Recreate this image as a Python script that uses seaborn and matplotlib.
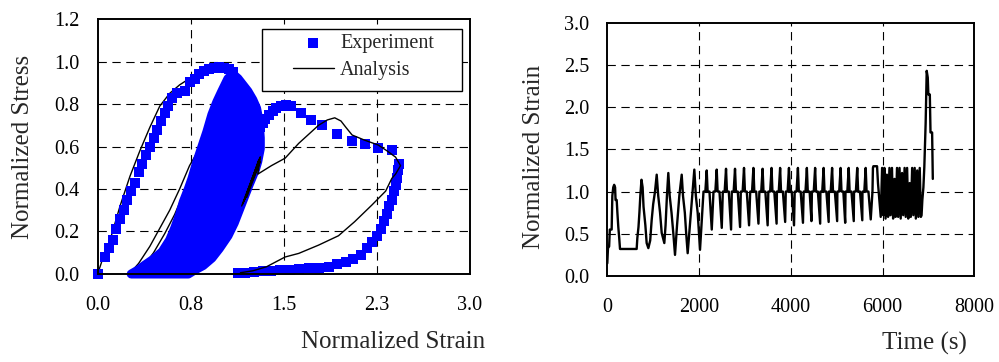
import numpy as np
import pandas as pd
import matplotlib
matplotlib.use("Agg")
import matplotlib.pyplot as plt
import seaborn as sns
from matplotlib.patches import Rectangle

# ---------------- Left panel data (stress-strain) ----------------
# Experiment: first loading envelope
exp_load_strain = [0.0, 0.06, 0.09, 0.12, 0.15, 0.18, 0.21, 0.24, 0.27, 0.30,
                   0.33, 0.36, 0.39, 0.42, 0.45, 0.48, 0.51, 0.54, 0.57, 0.60,
                   0.64, 0.70, 0.74, 0.78, 0.82, 0.86, 0.90, 0.94, 0.98, 1.02,
                   1.06, 1.09]
exp_load_stress = [0.0, 0.08, 0.12, 0.16, 0.21, 0.26, 0.30, 0.35, 0.39, 0.43,
                   0.48, 0.52, 0.56, 0.60, 0.64, 0.68, 0.72, 0.76, 0.79, 0.83,
                   0.85, 0.86, 0.905, 0.92, 0.94, 0.955, 0.965, 0.97, 0.975, 0.97,
                   0.965, 0.95]
# Experiment: post-cycling envelope and final unloading
exp_env_strain = [1.31, 1.33, 1.35, 1.38, 1.41, 1.44, 1.48, 1.52, 1.56, 1.64,
                  1.72, 1.81, 1.93, 2.05, 2.15, 2.26, 2.37, 2.43, 2.42, 2.41,
                  2.40, 2.39, 2.37, 2.35, 2.33, 2.31, 2.28, 2.25, 2.21, 2.17,
                  2.12, 2.06, 2.00, 1.93, 1.86, 1.78, 1.70, 1.62, 1.55, 1.47,
                  1.40, 1.33, 1.26, 1.19, 1.13]
exp_env_stress = [0.69, 0.71, 0.73, 0.75, 0.765, 0.78, 0.79, 0.795, 0.79, 0.76,
                  0.725, 0.70, 0.66, 0.626, 0.61, 0.595, 0.583, 0.52, 0.49, 0.45,
                  0.42, 0.39, 0.35, 0.32, 0.28, 0.25, 0.21, 0.18, 0.15, 0.12,
                  0.09, 0.07, 0.055, 0.045, 0.035, 0.03, 0.026, 0.022, 0.02, 0.018,
                  0.015, 0.012, 0.01, 0.007, 0.005]
# Experiment: outline of the densely overlapping cyclic loops
exp_cyc_strain = [0.27, 0.33, 0.38, 0.45, 0.52, 0.58, 0.62, 0.66, 0.69, 0.73,
                  0.76, 0.80, 0.84, 0.88, 0.92, 0.96, 1.00, 1.05, 1.09, 1.13,
                  1.17, 1.21, 1.25, 1.28, 1.30, 1.31, 1.31, 1.29, 1.27, 1.22,
                  1.16, 1.10, 1.05, 0.98, 0.92, 0.85, 0.78, 0.73]
exp_cyc_stress = [0.0, 0.02, 0.042, 0.07, 0.105, 0.16, 0.215, 0.28, 0.34, 0.40,
                  0.45, 0.53, 0.60, 0.67, 0.75, 0.81, 0.86, 0.92, 0.94, 0.92,
                  0.89, 0.86, 0.82, 0.78, 0.72, 0.64, 0.59, 0.53, 0.49, 0.42,
                  0.33, 0.24, 0.18, 0.12, 0.075, 0.04, 0.018, 0.0]

# Analysis: first loading and reloading branches (left side)
ana_a_strain = [0.0, 0.05, 0.10, 0.18, 0.26, 0.34, 0.42, 0.50, 0.58, 0.66,
                0.74, 0.82, 0.90, 0.98, 1.05, 1.08, 1.14, 1.19, 1.22,
                1.10, 0.95, 0.75, 0.50, 0.27,
                0.33, 0.42, 0.50, 0.58, 0.66, 0.74, 0.81, 0.88, 0.96, 1.04, 1.09,
                0.95, 0.70, 0.45, 0.31,
                0.36, 0.45, 0.54, 0.62, 0.70, 0.77, 0.84, 0.92, 1.00, 1.07, 1.12,
                0.95, 0.70, 0.45, 0.35,
                0.42, 0.50, 0.58, 0.66, 0.74, 0.82, 0.90, 0.98, 1.06, 1.14]
ana_a_stress = [0.0, 0.09, 0.16, 0.32, 0.46, 0.58, 0.69, 0.79, 0.85, 0.89,
                0.92, 0.945, 0.96, 0.97, 0.955, 0.93, 0.90, 0.88, 0.84,
                0.65, 0.42, 0.18, 0.04, 0.01,
                0.05, 0.13, 0.215, 0.30, 0.40, 0.51, 0.58, 0.66, 0.76, 0.83, 0.88,
                0.62, 0.25, 0.05, 0.0,
                0.03, 0.10, 0.19, 0.28, 0.39, 0.49, 0.58, 0.68, 0.78, 0.86, 0.90,
                0.62, 0.25, 0.05, 0.0,
                0.04, 0.10, 0.18, 0.29, 0.41, 0.54, 0.66, 0.77, 0.86, 0.91]
# Analysis: late cycles at right edge, post-peak branch and final unloading
ana_b_strain = [1.17, 1.31, 1.18, 1.30, 1.20, 1.31, 1.16, 1.29, 1.22, 1.31,
                1.29, 1.40, 1.51, 1.62, 1.78, 1.85, 1.91, 1.96, 2.00, 2.05,
                2.15, 2.26, 2.33, 2.40, 2.44, 2.40, 2.37, 2.32, 2.21, 2.07,
                1.94, 1.78, 1.62, 1.51, 1.36, 1.25, 1.15]
ana_b_stress = [0.33, 0.55, 0.345, 0.54, 0.36, 0.53, 0.32, 0.52, 0.40, 0.55,
                0.47, 0.51, 0.545, 0.615, 0.70, 0.725, 0.735, 0.72, 0.69, 0.654,
                0.63, 0.607, 0.58, 0.55, 0.51, 0.47, 0.45, 0.39, 0.325, 0.246,
                0.18, 0.136, 0.097, 0.08, 0.034, 0.015, 0.006]

x1_ticks = [0.0, 0.75, 1.5, 2.25, 3.0]
x1_ticklabels = ["0.0", "0.8", "1.5", "2.3", "3.0"]
y1_ticks = [0.0, 0.2, 0.4, 0.6, 0.8, 1.0, 1.2]

# ---------------- Right panel data (strain history) ----------------
early_t = [0, 15, 40, 55, 95, 110, 130, 150, 170, 180, 205, 220, 240, 260, 277,
           640, 655, 680, 700, 720, 745, 770, 790, 830, 858, 895, 935, 967, 1000,
           1040, 1077, 1110, 1150, 1186, 1243, 1270, 1300, 1330, 1360, 1400, 1440,
           1476, 1520, 1570, 1622, 1650, 1690, 1720, 1752, 1800, 1850, 1897, 1930,
           1970, 2000, 2021]
early_s = [0.15, 0.33, 0.35, 0.55, 0.55, 0.95, 1.05, 1.08, 1.05, 0.9, 0.9, 0.75,
           0.58, 0.45, 0.32, 0.32, 0.45, 0.58, 0.75, 0.95, 1.14, 1.05, 0.82, 0.6,
           0.39, 0.33, 0.42, 0.66, 0.85, 1.0, 1.2, 0.95, 0.75, 0.51, 0.39, 0.6,
           0.95, 1.22, 0.95, 0.75, 0.5, 0.25, 0.6, 0.95, 1.2, 0.95, 0.75, 0.5,
           0.27, 0.6, 0.95, 1.26, 0.95, 0.75, 0.5, 0.31]
# regular cycles 2000 - 5750 s
rise_a_t = [2097, 2315, 2518, 2714, 2910, 3115, 3315, 3510, 3697, 3890, 4085,
            4280, 4460, 4645, 4830, 5015, 5192, 5378, 5562]
rise_b_t = [2137, 2355, 2558, 2754, 2950, 3155, 3355, 3550, 3737, 3930, 4125,
            4320, 4500, 4685, 4870, 5055, 5232, 5418, 5602]
peak_t = [2167, 2385, 2588, 2784, 2980, 3185, 3385, 3580, 3767, 3960, 4155,
          4350, 4530, 4715, 4900, 5085, 5262, 5448, 5632]
peak_s = [1.25, 1.26, 1.27, 1.27, 1.28, 1.28, 1.27, 1.28, 1.28, 1.28, 1.28,
          1.28, 1.28, 1.28, 1.28, 1.28, 1.28, 1.28, 1.28]
fall_a_t = [2187, 2405, 2608, 2804, 3000, 3205, 3405, 3600, 3787, 3980, 4175,
            4370, 4550, 4735, 4920, 5105, 5282, 5468, 5652]
fall_b_t = [2227, 2445, 2648, 2844, 3040, 3245, 3445, 3640, 3827, 4020, 4215,
            4410, 4590, 4775, 4960, 5145, 5322, 5508, 5692]
trough_t = [2277, 2495, 2698, 2894, 3090, 3295, 3495, 3690, 3877, 4070, 4265,
            4450, 4640, 4825, 5010, 5185, 5372, 5558, 5742]
trough_s = [0.55, 0.57, 0.55, 0.58, 0.60, 0.62, 0.60, 0.62, 0.64, 0.60, 0.63,
            0.65, 0.62, 0.64, 0.65, 0.63, 0.65, 0.66, 0.67]
plateau_s = 1.0
# final stage: hold, rapid cycles, failure
late_t = [5780, 5790, 5800, 5880, 5900, 5930, 5960,
          5990, 6015, 6040, 6065, 6095, 6120, 6150, 6175, 6205, 6230, 6260, 6285,
          6315, 6340, 6370, 6395, 6425, 6450, 6480, 6505, 6535, 6560, 6590, 6615,
          6645, 6670, 6700, 6725, 6755, 6780, 6810, 6835,
          6850, 6867, 6890, 6910, 6939, 6950, 6962, 6975, 6985, 6998, 7030, 7045,
          7080, 7095]
late_s = [1.0, 1.28, 1.3, 1.3, 1.1, 0.9, 0.7,
          1.28, 0.72, 1.28, 0.68, 1.2, 0.7, 1.28, 0.72, 1.28, 0.68, 1.15, 0.7,
          1.28, 0.7, 1.28, 0.68, 1.22, 0.72, 1.28, 0.7, 1.28, 0.68, 1.1, 0.7,
          1.28, 0.72, 1.28, 0.68, 1.25, 0.7, 1.28, 0.7,
          0.72, 0.9, 1.05, 1.29, 1.81, 2.1, 2.43, 2.38, 2.35, 2.15, 2.15, 1.7,
          1.7, 1.15]

x2_ticks = [0, 2000, 4000, 6000, 8000]
y2_ticks = [0.0, 0.5, 1.0, 1.5, 2.0, 2.5, 3.0]

# assemble the time history
hist_t = list(early_t)
hist_s = list(early_s)
for i in range(len(peak_t)):
    hist_t += [rise_a_t[i], rise_b_t[i], peak_t[i], fall_a_t[i], fall_b_t[i], trough_t[i]]
    hist_s += [plateau_s, plateau_s, peak_s[i], plateau_s, plateau_s, trough_s[i]]
hist_t += late_t
hist_s += late_s
hist = pd.DataFrame({"t": hist_t, "s": hist_s})

# ---------------- Style ----------------
sns.set_theme(style="white")
plt.rcParams["font.family"] = ["Liberation Serif", "DejaVu Serif"]
plt.rcParams["axes.edgecolor"] = "black"
plt.rcParams["lines.scale_dashes"] = False

BLUE = "#0000FF"
TICK_FS = 14.5
LABEL_FS = 18

fig = plt.figure(figsize=(9.99, 3.62), dpi=100)
fig.patch.set_facecolor("white")
ax1 = fig.add_axes([0.0978, 0.2431, 0.3727, 0.7044])
ax2 = fig.add_axes([0.6079, 0.2376, 0.3674, 0.6997])

grid_kw = dict(color="black", linestyle=(0, (6, 4)), linewidth=0.8)

# ---- Left panel ----
df_load = pd.DataFrame({"strain": exp_load_strain, "stress": exp_load_stress})
df_env = pd.DataFrame({"strain": exp_env_strain, "stress": exp_env_stress})
df_a = pd.DataFrame({"strain": ana_a_strain, "stress": ana_a_stress})
df_b = pd.DataFrame({"strain": ana_b_strain, "stress": ana_b_stress})

sns.lineplot(data=df_a, x="strain", y="stress", sort=False, estimator=None,
             color="black", linewidth=1.0, ax=ax1, zorder=2)
ax1.fill(exp_cyc_strain, exp_cyc_stress, facecolor=BLUE, edgecolor=BLUE,
         linewidth=6.5, joinstyle="round", capstyle="round", clip_on=False,
         zorder=3)
sns.scatterplot(data=df_load, x="strain", y="stress", marker="s", s=44,
                color=BLUE, linewidth=0, ax=ax1, zorder=3, clip_on=False,
                label="Experiment")
sns.scatterplot(data=df_env, x="strain", y="stress", marker="s", s=44,
                color=BLUE, linewidth=0, ax=ax1, zorder=3, clip_on=False)
sns.lineplot(data=df_b, x="strain", y="stress", sort=False, estimator=None,
             color="black", linewidth=1.0, ax=ax1, zorder=4, label="Analysis")

ax1.set_xlim(0, 3.0)
ax1.set_ylim(0, 1.2)
ax1.set_xticks(x1_ticks)
ax1.set_xticklabels(x1_ticklabels)
ax1.set_yticks(y1_ticks)
ax1.set_yticklabels([f"{v:.1f}" for v in y1_ticks])
for v in x1_ticks[1:-1]:
    ax1.axvline(v, zorder=1, **grid_kw)
for v in y1_ticks[1:-1]:
    ax1.axhline(v, zorder=1, **grid_kw)

ax1.set_xlabel("Normalized Strain", fontsize=LABEL_FS, ha="right")
ax1.xaxis.set_label_coords(1.04, -0.225)
ax1.set_ylabel("Normalized Stress", fontsize=LABEL_FS)
ax1.yaxis.set_label_coords(-0.17, 0.5)

h, l = ax1.get_legend_handles_labels()
leg = ax1.legend(h, l, loc="center", bbox_to_anchor=(0.7137, 0.851),
                 frameon=False, fontsize=TICK_FS, handlelength=2.05,
                 handletextpad=0.3, labelspacing=0.35, borderpad=0)
leg.set_zorder(6)
ax1.add_patch(Rectangle((0.4405, 0.7176), 0.5372, 0.2434, transform=ax1.transAxes,
                        facecolor="white", edgecolor="black", linewidth=1.0,
                        zorder=5))

# ---- Right panel ----
sns.lineplot(data=hist, x="t", y="s", sort=False, estimator=None,
             color="black", linewidth=1.7, ax=ax2, zorder=3)
ax2.set_xlim(0, 8000)
ax2.set_ylim(0, 3.0)
ax2.set_xticks(x2_ticks)
ax2.set_xticklabels([str(v) for v in x2_ticks])
ax2.set_yticks(y2_ticks)
ax2.set_yticklabels([f"{v:.1f}" for v in y2_ticks])
for v in x2_ticks[1:-1]:
    ax2.axvline(v, zorder=1, **grid_kw)
for v in y2_ticks[1:-1]:
    ax2.axhline(v, zorder=1, **grid_kw)
ax2.set_xlabel("Time (s)", fontsize=LABEL_FS, ha="right")
ax2.xaxis.set_label_coords(0.98, -0.22)
ax2.set_ylabel("Normalized Strain", fontsize=LABEL_FS)
ax2.yaxis.set_label_coords(-0.17, 0.47)

for ax in (ax1, ax2):
    for sp in ax.spines.values():
        sp.set_visible(True)
        sp.set_color("black")
        sp.set_linewidth(1.4)
        sp.set_zorder(7)
    ax.tick_params(axis="both", length=0, labelsize=TICK_FS, colors="black")
    ax.tick_params(axis="x", pad=16)
    ax.tick_params(axis="y", pad=13)
    ax.grid(False)

fig.savefig("out.png", dpi=100, facecolor="white")
